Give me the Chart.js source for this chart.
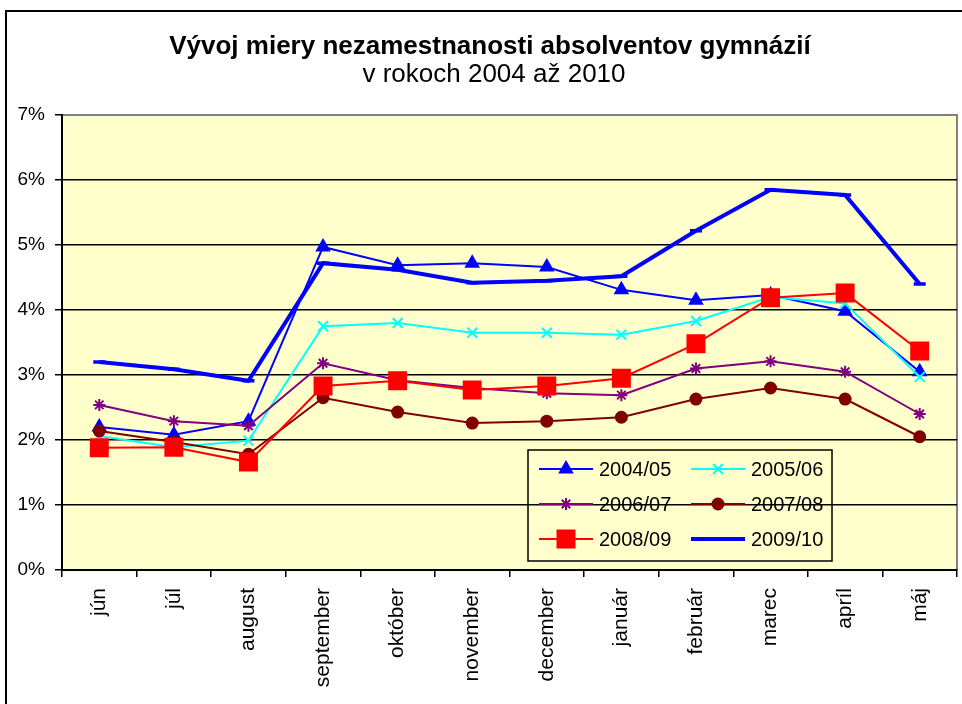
<!DOCTYPE html>
<html lang="sk">
<head>
    <meta charset="UTF-8">
    <title>Vývoj miery nezamestnanosti absolventov gymnázií</title>
    <script src="https://cdn.jsdelivr.net/npm/chart.js"></script>
    <style>
        body {
            margin: 0;
            background: #fff;
        }
        #wrap {
            position: relative;
            width: 962px;
            height: 704px;
        }
    </style>
</head>
<body>
    <div id="wrap">
        <canvas id="chart" width="962" height="704"></canvas>
    </div>

    <script>
        // mesiace školského roka
        const months = ['jún', 'júl', 'august', 'september', 'október', 'november',
            'december', 'január', 'február', 'marec', 'apríl', 'máj'];

        // miera nezamestnanosti v %
        const s0405 = [2.20, 2.08, 2.29, 4.97, 4.69, 4.72, 4.66, 4.31, 4.15, 4.23, 3.98, 3.05];
        const s0506 = [2.06, 1.89, 1.99, 3.75, 3.80, 3.65, 3.65, 3.62, 3.83, 4.20, 4.10, 2.97];
        const s0607 = [2.54, 2.29, 2.22, 3.18, 2.92, 2.80, 2.72, 2.69, 3.10, 3.21, 3.05, 2.40];
        const s0708 = [2.14, 1.97, 1.78, 2.65, 2.43, 2.26, 2.29, 2.35, 2.63, 2.80, 2.63, 2.05];
        const s0809 = [1.88, 1.89, 1.66, 2.83, 2.91, 2.77, 2.83, 2.95, 3.48, 4.19, 4.26, 3.37];
        const s0910 = [3.20, 3.09, 2.91, 4.72, 4.62, 4.42, 4.45, 4.52, 5.22, 5.85, 5.77, 4.40];

        const seriesNames = ['2004/05', '2005/06', '2006/07', '2007/08', '2008/09', '2009/10'];
        const yTicks = [0, 1, 2, 3, 4, 5, 6, 7];

        const titleText = 'Vývoj miery nezamestnanosti absolventov gymnázií';
        const subtitleText = 'v rokoch 2004 až 2010';

        const FONT = 'Arial, "Liberation Sans", sans-serif';

        function line(label, data, color, style, radius, width, order) {
            return {
                label: label,
                data: data,
                borderColor: color,
                backgroundColor: color,
                borderWidth: width,
                pointStyle: style,
                pointRadius: radius,
                pointHoverRadius: radius,
                pointBackgroundColor: color,
                pointBorderColor: color,
                pointBorderWidth: style === 'line' ? 3.5 : 2,
                tension: 0,
                fill: false,
                order: order
            };
        }

        // rám okolo grafu, žlté pozadie plochy a nadpis
        const framePlugin = {
            id: 'frame',
            beforeDraw(chart) {
                const { ctx, chartArea: a } = chart;
                ctx.save();
                ctx.fillStyle = '#FFFFCC';
                ctx.fillRect(a.left, a.top, a.right - a.left, a.bottom - a.top);
                ctx.strokeStyle = '#808080';
                ctx.lineWidth = 2;
                ctx.beginPath();
                ctx.moveTo(a.left, a.top);
                ctx.lineTo(a.right, a.top);
                ctx.lineTo(a.right, a.bottom);
                ctx.stroke();
                ctx.strokeStyle = '#000';
                ctx.beginPath();
                ctx.moveTo(6, 704);
                ctx.lineTo(6, 11);
                ctx.lineTo(962, 11);
                ctx.stroke();

                ctx.fillStyle = '#000';
                ctx.textAlign = 'center';
                ctx.textBaseline = 'middle';
                ctx.font = 'bold 26px ' + FONT;
                ctx.fillText(titleText, 490, 47);
                ctx.font = '26px ' + FONT;
                ctx.fillText(subtitleText, 494, 75);
                ctx.restore();
            }
        };

        // legenda ako v Exceli: čiara so značkou
        const legendPlugin = {
            id: 'excelLegend',
            afterDraw(chart) {
                const ctx = chart.ctx;
                const box = { x: 528, y: 450, w: 304, h: 111 };
                ctx.save();
                ctx.strokeStyle = '#000';
                ctx.lineWidth = 1.5;
                ctx.strokeRect(box.x, box.y, box.w, box.h);
                ctx.font = '20px ' + FONT;
                ctx.textBaseline = 'middle';
                ctx.fillStyle = '#000';
                chart.data.datasets.forEach((ds, i) => {
                    const col = i % 2, row = Math.floor(i / 2);
                    const x0 = box.x + 11 + col * 152;
                    const y0 = box.y + 19 + row * 35;
                    ctx.strokeStyle = ds.borderColor;
                    ctx.lineWidth = ds.borderWidth;
                    ctx.beginPath();
                    ctx.moveTo(x0, y0);
                    ctx.lineTo(x0 + 54, y0);
                    ctx.stroke();
                    ctx.fillStyle = ds.pointBackgroundColor;
                    ctx.strokeStyle = ds.pointBorderColor;
                    ctx.lineWidth = ds.pointBorderWidth;
                    Chart.helpers.drawPoint(ctx, {
                        pointStyle: ds.pointStyle,
                        radius: ds.pointRadius,
                        rotation: 0,
                        borderWidth: ds.pointBorderWidth
                    }, x0 + 27, y0);
                    ctx.fillStyle = '#000';
                    ctx.fillText(ds.label, x0 + 60, y0 + 1);
                });
                ctx.restore();
            }
        };

        new Chart(document.getElementById('chart').getContext('2d'), {
            type: 'line',
            data: {
                labels: months,
                datasets: [
                    line(seriesNames[0], s0405, '#0000FF', 'triangle', 7, 2, 5),
                    line(seriesNames[1], s0506, '#00FFFF', 'crossRot', 7, 2, 4),
                    line(seriesNames[2], s0607, '#800080', 'star', 6, 2, 3),
                    line(seriesNames[3], s0708, '#800000', 'circle', 5.5, 2, 2),
                    line(seriesNames[4], s0809, '#FF0000', 'rect', 12, 2, 1),
                    line(seriesNames[5], s0910, '#0000FF', 'line', 6, 4, 0)
                ]
            },
            options: {
                responsive: false,
                animation: false,
                layout: {
                    autoPadding: false,
                    padding: { left: 0, right: 5, top: 115, bottom: 0 }
                },
                plugins: {
                    legend: { display: false },
                    tooltip: { enabled: false },
                    title: { display: false }
                },
                scales: {
                    x: {
                        offset: true,
                        afterFit: s => {
                            s.height = 134;
                            s.paddingLeft = 0;
                            s.paddingRight = 0;
                        },
                        grid: {
                            offset: true,
                            drawOnChartArea: false,
                            drawTicks: true,
                            tickLength: 7,
                            color: '#000',
                            lineWidth: 1.5
                        },
                        border: { color: '#000', width: 2 },
                        ticks: {
                            minRotation: 90,
                            maxRotation: 90,
                            autoSkip: false,
                            padding: 11,
                            color: '#000',
                            font: { family: FONT, size: 21 }
                        }
                    },
                    y: {
                        min: yTicks[0],
                        max: yTicks[yTicks.length - 1],
                        afterFit: s => {
                            s.width = 62;
                            s.paddingTop = 0;
                            s.paddingBottom = 0;
                        },
                        afterBuildTicks: s => { s.ticks = yTicks.map(v => ({ value: v })); },
                        grid: {
                            color: c => (c.tick && c.tick.value === 7 ? '#808080' : '#000'),
                            lineWidth: 1.5,
                            tickLength: 7,
                            tickColor: '#000'
                        },
                        border: { color: '#000', width: 2 },
                        ticks: {
                            padding: 10,
                            color: '#000',
                            font: { family: FONT, size: 19 },
                            callback: v => v + '%'
                        }
                    }
                }
            },
            plugins: [framePlugin, legendPlugin]
        });
    </script>
</body>
</html>
